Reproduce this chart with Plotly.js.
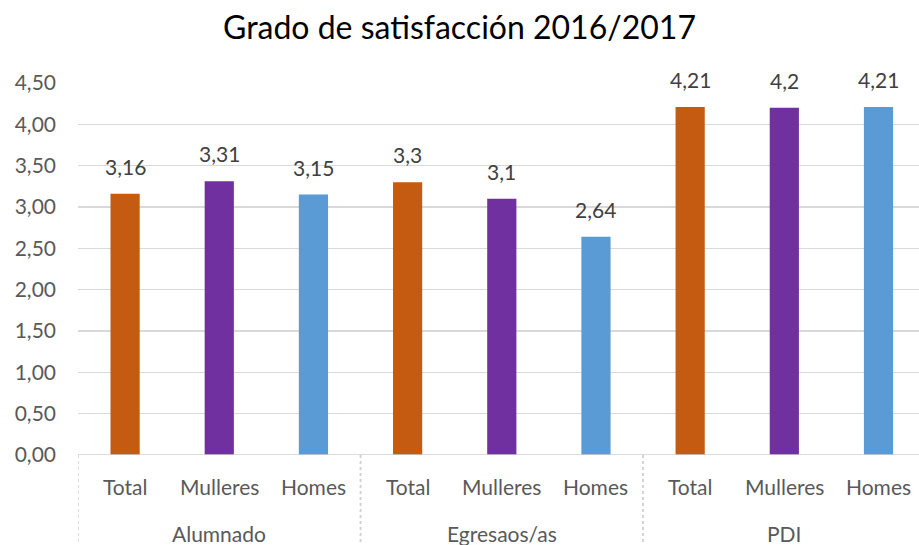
<!DOCTYPE html>
<html>
<head>
<meta charset="utf-8">
<script src="https://cdn.plot.ly/plotly-3.0.1.min.js"></script>
<style>html,body{margin:0;padding:0;background:#fff;}#chart{width:919px;height:545px;}</style>
</head>
<body>
<div id="chart"></div>
<script>
var groups = ["Alumnado", "Alumnado", "Alumnado", "Egresaos/as", "Egresaos/as", "Egresaos/as", "PDI", "PDI", "PDI"];
var categories = ["Total", "Mulleres", "Homes", "Total", "Mulleres", "Homes", "Total", "Mulleres", "Homes"];
var values = [3.16, 3.31, 3.15, 3.3, 3.1, 2.64, 4.21, 4.2, 4.21];
var categoryColors = {"Total": "#C55A11", "Mulleres": "#7030A0", "Homes": "#5B9BD5"};

var font = "Lato, 'Open Sans', sans-serif";
var positions = values.map(function(v, i){ return i; });
var colors = categories.map(function(c){ return categoryColors[c]; });
var labels = values.map(function(v){ return String(v).replace('.', ','); });

var trace = {
  type: 'bar',
  x: positions,
  y: values,
  marker: {color: colors},
  hoverinfo: 'none'
};

var annotations = [];
values.forEach(function(v, i){
  annotations.push({
    x: positions[i], y: v, xref: 'x', yref: 'y',
    text: labels[i], showarrow: false,
    yanchor: 'bottom', yshift: 13,
    font: {family: font, size: 21, color: '#404040'}
  });
  annotations.push({
    x: positions[i], y: 0, xref: 'x', yref: 'paper',
    text: categories[i], showarrow: false,
    yanchor: 'middle', yshift: -31,
    font: {family: font, size: 21, color: '#595959'}
  });
});

// group labels and dividers
var shapes = [];
var groupNames = [];
var groupStart = {}, groupEnd = {};
groups.forEach(function(g, i){
  if (!(g in groupStart)) { groupNames.push(g); groupStart[g] = i; }
  groupEnd[g] = i;
});
groupNames.forEach(function(g){
  var s = groupStart[g], e = groupEnd[g];
  annotations.push({
    x: (s + e) / 2, y: 0, xref: 'x', yref: 'paper',
    text: g, showarrow: false,
    yanchor: 'middle', yshift: -78,
    font: {family: font, size: 21, color: '#595959'}
  });
  [s - 0.5, e + 0.5].forEach(function(xb){
    shapes.push({
      type: 'line', xref: 'x', yref: 'paper',
      x0: xb, x1: xb, y0: 0, y1: -90 / 372,
      line: {color: '#d0d0d0', width: 1.5, dash: 'dot'}
    });
  });
});
shapes.push({
  type: 'line', xref: 'paper', yref: 'y',
  x0: 0, x1: 1, y0: 0, y1: 0,
  line: {color: '#d0d0d0', width: 1.5}
});

var layout = {
  width: 919, height: 545,
  margin: {l: 78, r: 0, t: 83, b: 90},
  paper_bgcolor: '#fff', plot_bgcolor: '#fff',
  separators: ',.',
  bargap: 0.69,
  showlegend: false,
  title: {text: 'Grado de satisfacción 2016/2017', x: 0.5, xanchor: 'center', y: 0.949, yanchor: 'middle',
          font: {family: font, size: 32, color: '#000'}},
  xaxis: {
    type: 'linear', range: [-0.5, 8.43],
    showticklabels: false, ticks: '',
    showgrid: false, zeroline: false, showline: false
  },
  yaxis: {
    range: [0, 4.5], dtick: 0.5, tick0: 0, tickformat: '.2f',
    showgrid: true, gridcolor: '#d9d9d9', gridwidth: 1.5,
    zeroline: false, showline: false,
    ticks: '', ticklabelstandoff: 21,
    tickfont: {family: font, size: 21, color: '#595959'}
  },
  annotations: annotations,
  shapes: shapes
};

Plotly.newPlot('chart', [trace], layout, {displayModeBar: false, staticPlot: true});
</script>
</body>
</html>
